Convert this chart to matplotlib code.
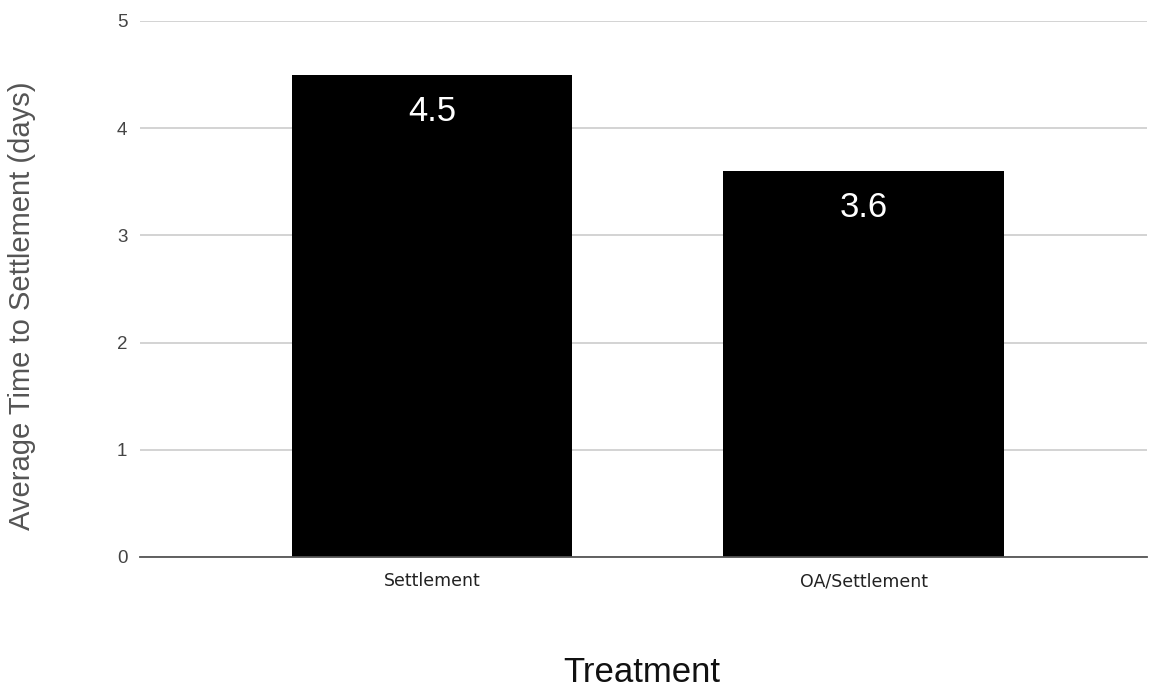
import matplotlib
matplotlib.use("Agg")
import matplotlib.pyplot as plt

treatments = ["Settlement", "OA/Settlement"]
avg_days = [4.5, 3.6]
yticks = [0, 1, 2, 3, 4, 5]

plt.rcParams['font.family'] = ['Liberation Sans', 'DejaVu Sans']

fig = plt.figure(figsize=(11.49, 6.92), dpi=100)
ax = fig.add_axes([0.1218, 0.1951, 0.8765, 0.7746])

x = list(range(len(treatments)))
bars = ax.bar(x, avg_days, width=0.649, color="black", zorder=3)

# value labels inside the top of each bar
for xi, v in zip(x, avg_days):
    ax.annotate(f"{v}", (xi, v), xytext=(0, -26.5), textcoords="offset points",
                ha="center", va="center", color="white", fontsize=25)

ax.set_xlim(-0.6767, 1.657)
ax.set_ylim(0, 5)
ax.set_yticks(yticks)
ax.set_yticklabels([str(t) for t in yticks], fontsize=13.5, color="#444444")
ax.set_xticks(x)
ax.set_xticklabels(treatments, fontsize=12.5, color="#222222",
                   family="DejaVu Sans")
ax.tick_params(axis="y", length=0, pad=9)
ax.tick_params(axis="x", length=0, pad=11)

ax.grid(axis="y", color="#cccccc", linewidth=1.2, zorder=0)
for s in ["top", "right", "left"]:
    ax.spines[s].set_visible(False)
ax.spines["bottom"].set_color("#555555")
ax.spines["bottom"].set_linewidth(1.3)
ax.spines["bottom"].set_zorder(4)

fig.text(22 / 1149, 1 - 306 / 692, "Average Time to Settlement (days)",
         rotation=90, ha="center", va="center", fontsize=21, color="#555555")
fig.text(642 / 1149, 1 - 672 / 692, "Treatment",
         ha="center", va="center", fontsize=25, color="#111111")

fig.savefig("out.png", dpi=100)
